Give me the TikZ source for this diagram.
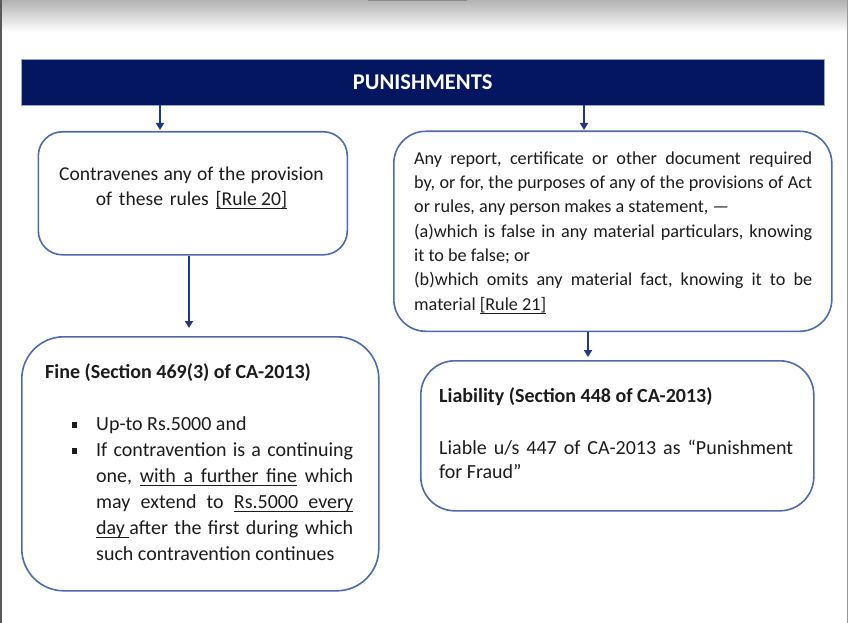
\documentclass[tikz,border=0pt]{standalone}
\usepackage{fontspec}
\setmainfont{Carlito}
\usetikzlibrary{arrows.meta}
\definecolor{navy}{RGB}{4,22,96}
\definecolor{boxblue}{RGB}{79,106,168}
\definecolor{arrblue}{RGB}{35,55,125}
\definecolor{txt}{RGB}{28,28,28}
% word space, underlined word, underlined fill, square bullet, justified line
\newcommand{\wsp}{\spaceskip=0.225em plus 0.08em minus 0.04em\relax}
\newsavebox{\ulbox}
\newcommand{\ulw}[1]{\sbox{\ulbox}{#1}\rlap{\vrule width\wd\ulbox height -2.6pt depth 3.6pt}\usebox{\ulbox}}
\newcommand{\ulfill}{\leaders\hrule height -2.6pt depth 3.6pt\hskip 0.12em plus 1fil\relax}
\newcommand{\sqbul}{\makebox[0pt][r]{\raisebox{2.5pt}{\rule{5.5pt}{5.5pt}}\hspace{19pt}}}
\newcommand{\jline}[2]{\makebox[#1][s]{\spaceskip=0.12em plus 1fil\relax #2}}
\frenchspacing

\begin{document}
\begin{tikzpicture}[x=1pt, y=-1pt,
    box/.style={draw=boxblue, line width=1.6pt, fill=white, anchor=north west},
    arr/.style={draw=arrblue, line width=1.8pt, -{Triangle[length=7pt,width=8pt]}},
    body/.style={text=txt, inner sep=0pt, font=\fontsize{20}{26}\selectfont, execute at begin node=\wsp},
    headtxt/.style={body, font=\bfseries\fontsize{20}{24.4}\selectfont}]
    % page
    \useasboundingbox (0,0) rectangle (848,623);
    \fill[white] (0,0) rectangle (848,623);
    \shade[top color=black!30, bottom color=white] (0,0) rectangle (848,32);
    \fill[black!45] (368,0) rectangle (467,1.5);
    \fill[black!65] (0,0) rectangle (2,623);
    \fill[black!40] (846.5,0) rectangle (848,623);

    % header bar
    \node[fill=navy, draw=boxblue!60, anchor=north west, minimum width=803, minimum height=46,
          inner sep=0pt, text=white, font=\bfseries\fontsize{22.5}{26}\selectfont] (head) at (21,59) {PUNISHMENTS};

    % boxes
    \node[box, rounded corners=24, minimum width=309, minimum height=123] (rule20) at (37.5,131) {};
    \node[box, rounded corners=32, minimum width=438, minimum height=200] (rule21) at (393,130.5) {};
    \node[box, rounded corners=42, minimum width=357, minimum height=254] (fine) at (21,336) {};
    \node[box, rounded corners=34, minimum width=393, minimum height=150] (liab) at (420,360) {};

    % texts
    \node[body, text width=309, align=center, anchor=base, font=\fontsize{19.6}{25.6}\selectfont] (rule20txt) at (191.5,180)
        {Contravenes any of the provision\\of these rules \ulw{[Rule 20]}};
    \node[body, text width=400, anchor=base west, font=\fontsize{18.2}{24.35}\selectfont] (rule21txt) at (414,164) {%
        \jline{398pt}{Any report, certificate or other document required}\\
        \jline{398pt}{by, or for, the purposes of any of the provisions of Act}\\
        or rules, any person makes a statement, ---\\
        \jline{398pt}{(a)which is false in any material particulars, knowing}\\
        it to be false; or\\
        \jline{398pt}{(b)which omits any material fact, knowing it to be}\\
        material \ulw{[Rule 21]}};

    \node[headtxt, anchor=base west] (finehd) at (45,378) {Fine (Section 469(3) of CA-2013)};
    \node[body, text width=258, anchor=base west] (finetxt) at (96,430) {%
        \sqbul Up-to Rs.5000 and\\
        \sqbul\jline{257pt}{If contravention is a continuing}\\
        \jline{257pt}{one, \ulw{with}\ulfill\ulw{a}\ulfill\ulw{further}\ulfill\ulw{fine} which}\\
        \jline{257pt}{may extend to \ulw{Rs.5000}\ulfill\ulw{every}}\\
        \jline{257pt}{\ulw{day\hspace{4.5pt}}after the first during which}\\
        such contravention continues};

    \node[headtxt, anchor=base west] (liabhd) at (439,402) {Liability (Section 448 of CA-2013)};
    \node[body, text width=355, anchor=base west, font=\fontsize{20}{24.4}\selectfont] (liabtxt) at (439,454)
        {\jline{354pt}{Liable u/s 447 of CA-2013 as “Punishment}\\for Fraud”};

    % arrows
    \coordinate (p1) at (160,130);
    \coordinate (p2) at (584,130);
    \coordinate (p3) at (189,328);
    \coordinate (p4) at (588,357);
    \draw[arr] (p1 |- head.south) -- (p1);
    \draw[arr] (p2 |- head.south) -- (p2);
    \draw[arr] (p3 |- rule20.south) -- (p3);
    \draw[arr] (p4 |- rule21.south) -- (p4);
\end{tikzpicture}
\end{document}
